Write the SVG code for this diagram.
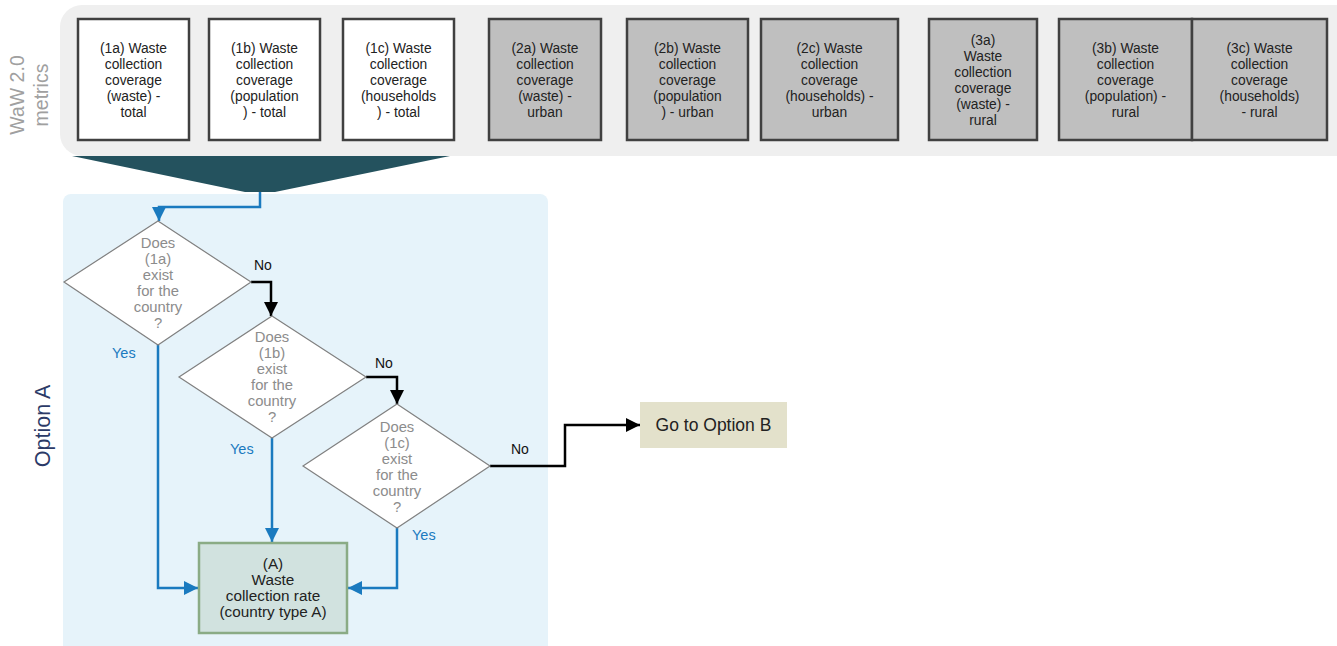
<svg xmlns="http://www.w3.org/2000/svg" width="1337" height="646" viewBox="0 0 1337 646">
<defs>
<style>
.t{font-family:"Liberation Sans",Arial,sans-serif;font-size:13.8px;text-anchor:middle;fill:#222}
.q{font-family:"Liberation Sans",Arial,sans-serif;font-size:14.8px;text-anchor:middle;fill:#8c8c8c}
.lbl{font-family:"Liberation Sans",Arial,sans-serif;font-size:14px;fill:#111}
.yes{font-family:"Liberation Sans",Arial,sans-serif;font-size:14.5px;fill:#1a7abf}
.wb{fill:#fff;stroke:#404040;stroke-width:2.5}
.gb{fill:#bfbfbf;stroke:#404040;stroke-width:2.5}
.dia{fill:#fff;stroke:#808080;stroke-width:1.2}
.cb{fill:none;stroke:#1a7abf;stroke-width:2.5}
.ck{fill:none;stroke:#000;stroke-width:2.5}
</style>
<marker id="ab" viewBox="0 0 10 10" refX="10" refY="5" markerWidth="14" markerHeight="14" markerUnits="userSpaceOnUse" orient="auto"><path d="M0,0 L10,5 L0,10 z" fill="#1a7abf"/></marker>
<marker id="ak" viewBox="0 0 10 10" refX="10" refY="5" markerWidth="14" markerHeight="14" markerUnits="userSpaceOnUse" orient="auto"><path d="M0,0 L10,5 L0,10 z" fill="#000"/></marker>
</defs>
<rect x="60" y="5" width="1300" height="151" rx="22" fill="#efefef"/>
<polygon points="72,156 450,156 275,192 245,192" fill="#24525e"/>
<rect x="63" y="194" width="485" height="460" rx="8" fill="#e6f3fa"/>
<g id="waw-label"><text transform="translate(24,95) rotate(-90)" font-family="Liberation Sans,Arial,sans-serif" font-size="19.5" fill="#a0a0a0" text-anchor="middle"><tspan x="0" y="0">WaW 2.0</tspan><tspan x="0" y="24">metrics</tspan></text></g>
<g id="optionA-label"><text transform="translate(50,426) rotate(-90)" font-family="Liberation Sans,Arial,sans-serif" font-size="21.5" fill="#2b3a67" text-anchor="middle">Option A</text></g>
<g id="m1a"><rect class="wb" x="78" y="19" width="111" height="121"/><text class="t"><tspan x="133.5" y="53">(1a) Waste</tspan><tspan x="133.5" y="69">collection</tspan><tspan x="133.5" y="85">coverage</tspan><tspan x="133.5" y="101">(waste) -</tspan><tspan x="133.5" y="117">total</tspan></text></g>
<g id="m1b"><rect class="wb" x="209" y="19" width="111" height="121"/><text class="t"><tspan x="264.5" y="53">(1b) Waste</tspan><tspan x="264.5" y="69">collection</tspan><tspan x="264.5" y="85">coverage</tspan><tspan x="264.5" y="101">(population</tspan><tspan x="264.5" y="117">) - total</tspan></text></g>
<g id="m1c"><rect class="wb" x="343" y="19" width="111" height="121"/><text class="t"><tspan x="398.5" y="53">(1c) Waste</tspan><tspan x="398.5" y="69">collection</tspan><tspan x="398.5" y="85">coverage</tspan><tspan x="398.5" y="101">(households</tspan><tspan x="398.5" y="117">) - total</tspan></text></g>
<g id="m2a"><rect class="gb" x="489" y="19" width="112" height="121"/><text class="t"><tspan x="545" y="53">(2a) Waste</tspan><tspan x="545" y="69">collection</tspan><tspan x="545" y="85">coverage</tspan><tspan x="545" y="101">(waste) -</tspan><tspan x="545" y="117">urban</tspan></text></g>
<g id="m2b"><rect class="gb" x="627" y="19" width="121" height="121"/><text class="t"><tspan x="687.5" y="53">(2b) Waste</tspan><tspan x="687.5" y="69">collection</tspan><tspan x="687.5" y="85">coverage</tspan><tspan x="687.5" y="101">(population</tspan><tspan x="687.5" y="117">) - urban</tspan></text></g>
<g id="m2c"><rect class="gb" x="761" y="19" width="137" height="121"/><text class="t"><tspan x="829.5" y="53">(2c) Waste</tspan><tspan x="829.5" y="69">collection</tspan><tspan x="829.5" y="85">coverage</tspan><tspan x="829.5" y="101">(households) -</tspan><tspan x="829.5" y="117">urban</tspan></text></g>
<g id="m3a"><rect class="gb" x="929" y="19" width="108" height="121"/><text class="t"><tspan x="983" y="45">(3a)</tspan><tspan x="983" y="61">Waste</tspan><tspan x="983" y="77">collection</tspan><tspan x="983" y="93">coverage</tspan><tspan x="983" y="109">(waste) -</tspan><tspan x="983" y="125">rural</tspan></text></g>
<g id="m3b"><rect class="gb" x="1059" y="19" width="133" height="121"/><text class="t"><tspan x="1125.5" y="53">(3b) Waste</tspan><tspan x="1125.5" y="69">collection</tspan><tspan x="1125.5" y="85">coverage</tspan><tspan x="1125.5" y="101">(population) -</tspan><tspan x="1125.5" y="117">rural</tspan></text></g>
<g id="m3c"><rect class="gb" x="1192" y="19" width="135" height="121"/><text class="t"><tspan x="1259.5" y="53">(3c) Waste</tspan><tspan x="1259.5" y="69">collection</tspan><tspan x="1259.5" y="85">coverage</tspan><tspan x="1259.5" y="101">(households)</tspan><tspan x="1259.5" y="117">- rural</tspan></text></g>
<g id="connectors">
<path class="cb" d="M260,192 V207 H159 V221" marker-end="url(#ab)"/>
<path class="ck" d="M251,282 H271 V316" marker-end="url(#ak)"/>
<path class="ck" d="M366,377 H397 V404" marker-end="url(#ak)"/>
<path class="ck" d="M490,466 H565 V425 H640" marker-end="url(#ak)"/>
<path class="cb" d="M158,345 V588 H198" marker-end="url(#ab)"/>
<path class="cb" d="M272,438 V542" marker-end="url(#ab)"/>
<path class="cb" d="M397,528 V588 H348" marker-end="url(#ab)"/>
<text class="lbl" x="254" y="270">No</text>
<text class="lbl" x="375" y="368">No</text>
<text class="lbl" x="511" y="454">No</text>
<text class="yes" x="112" y="358">Yes</text>
<text class="yes" x="230" y="454">Yes</text>
<text class="yes" x="412" y="540">Yes</text>
</g>
<g id="d1"><polygon class="dia" points="158,221 251,282 158,345 64,282"/><text class="q"><tspan x="158" y="248">Does</tspan><tspan x="158" y="264">(1a)</tspan><tspan x="158" y="280">exist</tspan><tspan x="158" y="296">for the</tspan><tspan x="158" y="312">country</tspan><tspan x="158" y="328">?</tspan></text></g>
<g id="d2"><polygon class="dia" points="272,316 366,377 272,438 179,377"/><text class="q"><tspan x="272" y="342">Does</tspan><tspan x="272" y="358">(1b)</tspan><tspan x="272" y="374">exist</tspan><tspan x="272" y="390">for the</tspan><tspan x="272" y="406">country</tspan><tspan x="272" y="422">?</tspan></text></g>
<g id="d3"><polygon class="dia" points="397,404 490,466 397,528 303,466"/><text class="q"><tspan x="397" y="432">Does</tspan><tspan x="397" y="448">(1c)</tspan><tspan x="397" y="464">exist</tspan><tspan x="397" y="480">for the</tspan><tspan x="397" y="496">country</tspan><tspan x="397" y="512">?</tspan></text></g>
<g id="optionB"><rect x="640" y="402" width="147" height="46" fill="#e3e1cb"/><text class="t" x="713.5" y="431" style="font-size:17.5px">Go to Option B</text></g>
<g id="resultA"><rect x="199" y="543" width="148" height="90" fill="#d1e2df" stroke="#8aab85" stroke-width="2.5"/><text class="t" style="font-size:15.3px"><tspan x="273" y="569">(A)</tspan><tspan x="273" y="585">Waste</tspan><tspan x="273" y="601">collection rate</tspan><tspan x="273" y="617">(country type A)</tspan></text></g>
</svg>
